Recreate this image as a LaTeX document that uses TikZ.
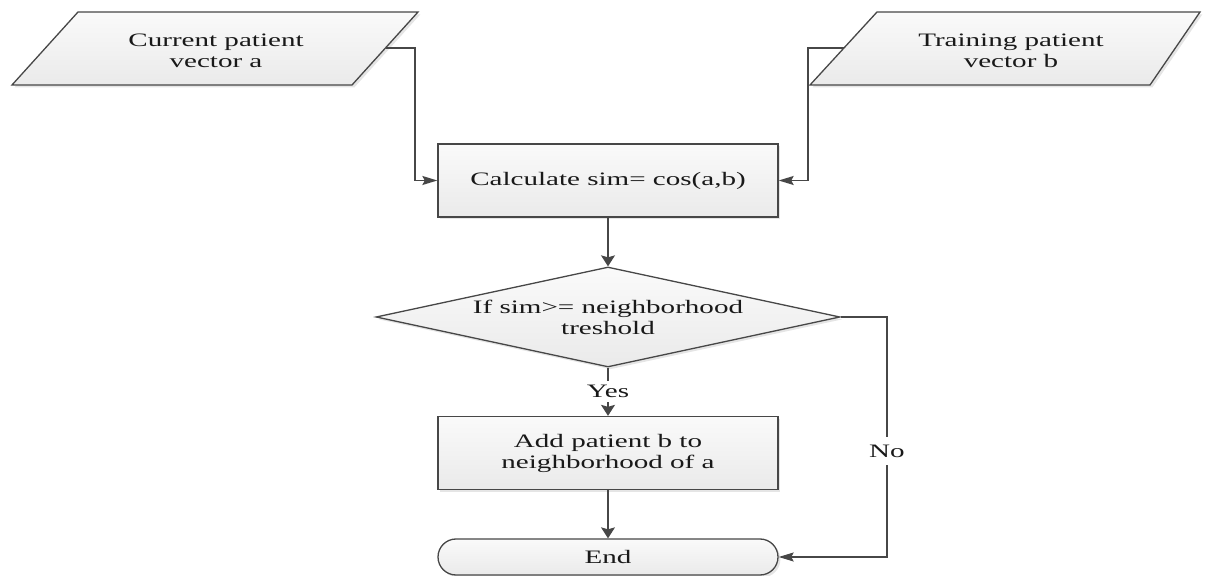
\documentclass[tikz,border=0pt]{standalone}
\usepackage{fontspec}
\setmainfont{Liberation Serif}[FakeStretch=1.53]
\usetikzlibrary{arrows.meta,shapes.geometric,shapes.misc,shadows}

\definecolor{edgegray}{HTML}{474747}
\definecolor{filltop}{HTML}{FAFAFA}
\definecolor{fillbot}{HTML}{EAEAEA}

\begin{document}
\begin{tikzpicture}[
  x=0.5pt, y=-0.5pt,
  every node/.style={font=\fontsize{9.5}{10.5}\selectfont, text=black!90, align=center},
  shapebase/.style={draw=edgegray, line width=0.65pt, top color=filltop, bottom color=fillbot,
    drop shadow={shadow xshift=1.2pt, shadow yshift=-1.2pt, opacity=0.25, fill=black!40}},
  procbox/.style={shapebase, rectangle, minimum width=170pt, minimum height=36.5pt, inner sep=0pt},
  decision/.style={shapebase, diamond, aspect=4.64, minimum width=232pt, minimum height=50pt, inner sep=0pt},
  terminal/.style={shapebase, rounded rectangle, minimum width=170pt, minimum height=18pt, inner sep=0pt},
  textonly/.style={inner sep=0pt},
  link/.style={draw=edgegray, line width=0.7pt},
  varrow/.style={link, -{Stealth[length=5.5pt, width=7pt, inset=1pt]}},
  harrow/.style={link, -{Stealth[length=7.5pt, width=4.5pt, inset=1.2pt]}}
]
\useasboundingbox (0,0) rectangle (1209,576);

% input parallelograms
\path[shapebase] (78,12) -- (418,12) -- (352,85) -- (12,85) -- cycle;
\node[textonly] (inA) at (216,51) {Current patient\\vector a};
\coordinate (outA) at (386,48);

\path[shapebase] (877,12) -- (1200,12) -- (1150,85) -- (810,85) -- cycle;
\node[textonly] (inB) at (1011,51) {Training patient\\vector b};
\coordinate (outB) at (844,48);

% process steps
\node[procbox] (calc) at (608,180.5) {Calculate sim= cos(a,b)};
\node[decision] (test) at (608,317) {If sim>= neighborhood\\treshold};
\node[procbox] (add) at (608,453) {Add patient b to\\neighborhood of a};
\node[terminal] (finish) at (608,557) {End};

% branch labels
\node[textonly, minimum height=10.5pt] (yes) at (608,391.5) {Yes};
\node[textonly, minimum height=14pt] (no) at (887,451) {No};

% connectors
\draw[harrow] (outA) -- (415,48) |- (calc.west);
\draw[harrow] (outB) -- (808,48) |- (calc.east);
\draw[varrow] (calc.south) -- (test.north);
\draw[link] (test.south) -- (yes.north);
\draw[varrow] (yes.south) -- (add.north);
\draw[varrow] (add.south) -- (finish.north);
\draw[link] (test.east) -| (no.north);
\draw[harrow] (no.south) |- (finish.east);
\end{tikzpicture}
\end{document}
